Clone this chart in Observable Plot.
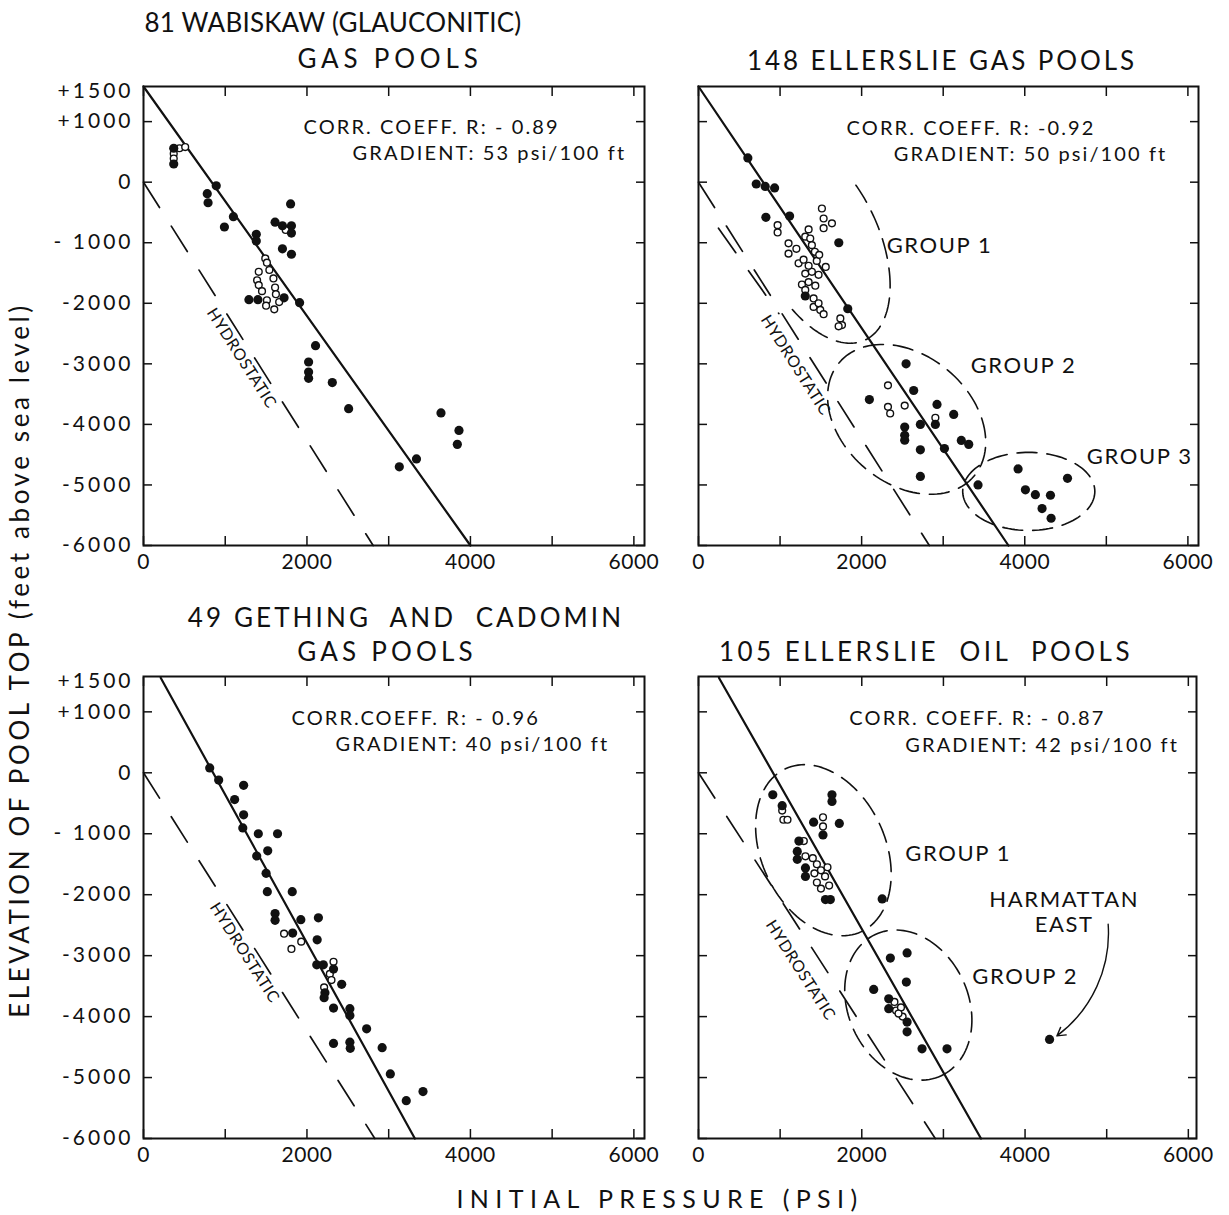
<!DOCTYPE html>
<html><head><meta charset="utf-8">
<script src="https://cdn.jsdelivr.net/npm/d3@7"></script>
<script src="https://cdn.jsdelivr.net/npm/@observablehq/plot@0.6"></script>
<style>
body{margin:0;background:#fff;}
#root{position:relative;width:1229px;height:1215px;font-family:Lato,"DejaVu Sans",sans-serif;color:#111;overflow:hidden;}
.t{position:absolute;white-space:pre;transform:translate(-50%,-50%);font-size:26px;line-height:1;}
.p{position:absolute;}
.p svg{max-width:none;}
svg text{letter-spacing:0.5px;}
svg g[font-size="20"] text{letter-spacing:2.1px;}
svg g[font-size="22"] text{letter-spacing:1.6px;}
svg g[font-size="16"] text{letter-spacing:0.6px;}
svg g[aria-label="y-axis tick label"] text{letter-spacing:3px;}
svg g[aria-label="x-axis tick label"] text{letter-spacing:0.5px;}
</style></head><body><div id="root"></div>
<script>
// ---------- axis ticks ----------
const xTickValues = [0,1000,2000,3000,4000,5000,6000];
const xLabelValues = [0,2000,4000,6000];
const yTickValues = [1000,0,-1000,-2000,-3000,-4000,-5000,-6000];
const yLabelValues = [1500,1000,0,-1000,-2000,-3000,-4000,-5000,-6000];
const yLabelTexts = ["+1500","+1000","0","- 1000","-2000","-3000","-4000","-5000","-6000"];

// ---------- titles ----------
const titleTexts = ["81 WABISKAW (GLAUCONITIC)","GAS POOLS","148 ELLERSLIE GAS POOLS","49 GETHING  AND  CADOMIN","GAS POOLS","105 ELLERSLIE  OIL  POOLS"];
const yAxisTitle = "ELEVATION OF POOL TOP (feet above sea level)";
const xAxisTitle = "INITIAL PRESSURE (PSI)";

// ---------- 81 Wabiskaw (Glauconitic) gas pools ----------
const wabSolid = [[370,560],[370,300],[890,-60],[780,-190],[790,-340],[1100,-570],[990,-740],[1380,-860],[1380,-970],[1610,-660],[1700,-720],[1810,-720],[1810,-840],[1800,-360],[1700,-1100],[1810,-1190],[1290,-1940],[1400,-1940],[1720,-1910],[1910,-1990],[2105,-2700],[2020,-2970],[2020,-3135],[2020,-3240],[2310,-3310],[2510,-3740],[3640,-3810],[3860,-4100],[3840,-4330],[3340,-4570],[3130,-4700]];
const wabOpen = [[370,470],[370,390],[440,560],[510,580],[1740,-790],[1490,-1260],[1510,-1330],[1410,-1480],[1390,-1620],[1410,-1700],[1590,-1590],[1610,-1740],[1620,-1850],[1510,-1950],[1500,-2040],[1600,-2100],[1660,-1980],[1450,-1800],[1540,-1450]];
const wabRegression = [[0,1580],[4000,-6000]];
const wabHydro = [[0,0],[2810,-6000]];
const wabNotes = ["CORR. COEFF. R: - 0.89","GRADIENT: 53 psi/100 ft"];

// ---------- 148 Ellerslie gas pools ----------
const ellGasSolid = [[605,400],[708,-30],[818,-70],[933,-95],[826,-580],[1117,-560],[1309,-1880],[1830,-2090],[1720,-1000],[2545,-3000],[2638,-3440],[2095,-3590],[2924,-3670],[3129,-3835],[2528,-4045],[2528,-4180],[2528,-4260],[2720,-4000],[2904,-4000],[2720,-4420],[3015,-4400],[3222,-4265],[3313,-4330],[2720,-4860],[3427,-5000],[3918,-4735],[4008,-5080],[4130,-5160],[4315,-5170],[4212,-5390],[4323,-5550],[4524,-4890]];
const ellGasOpen = [[2323,-3355],[2323,-3710],[2350,-3820],[2528,-3690],[2904,-3890],[970,-710],[970,-830],[1513,-435],[1534,-600],[1534,-760],[1636,-680],[1104,-1010],[1104,-1180],[1309,-900],[1350,-780],[1370,-930],[1390,-1040],[1427,-1150],[1227,-1340],[1288,-1280],[1309,-1510],[1390,-1480],[1472,-1530],[1268,-1690],[1309,-1780],[1350,-1650],[1432,-1710],[1411,-1920],[1411,-2060],[1472,-2000],[1493,-2110],[1534,-2180],[1739,-2250],[1759,-2360],[1718,-2380],[1200,-1100],[1450,-1300],[1560,-1400],[1480,-1200],[1350,-1380]];
const ellGasRegression = [[0,1580],[3800,-6000]];
const ellGasHydro = [[0,0],[2830,-6000]];
const ellGasHydro2 = [[245,-760],[985,-2170]];
const ellGasNotes = ["CORR. COEFF. R: -0.92","GRADIENT: 50 psi/100 ft"];
const ellGasGroups = ["GROUP 1","GROUP 2","GROUP 3"];

// ---------- 49 Gething and Cadomin gas pools ----------
const gethSolid = [[810,80],[920,-120],[1225,-205],[1115,-440],[1225,-690],[1215,-905],[1405,-1000],[1640,-1000],[1385,-1365],[1520,-1280],[1500,-1650],[1515,-1950],[1820,-1950],[1610,-2310],[1610,-2420],[1925,-2410],[2140,-2380],[1825,-2630],[2125,-2740],[2120,-3150],[2200,-3150],[2325,-3220],[2425,-3470],[2220,-3610],[2210,-3690],[2325,-3860],[2525,-3870],[2525,-3980],[2730,-4200],[2325,-4440],[2525,-4420],[2530,-4520],[2920,-4510],[3020,-4940],[3215,-5380],[3420,-5230]];
const gethOpen = [[1720,-2640],[1930,-2770],[1810,-2890],[2325,-3100],[2210,-3520],[2280,-3300],[2300,-3400]];
const gethRegression = [[210,1560],[3320,-6000]];
const gethHydro = [[0,0],[2830,-6000]];
const gethNotes = ["CORR.COEFF. R: - 0.96","GRADIENT: 40 psi/100 ft"];

// ---------- 105 Ellerslie oil pools ----------
const ellOilSolid = [[910,-360],[1025,-540],[1635,-360],[1635,-470],[1410,-810],[1725,-830],[1525,-1020],[1230,-1120],[1210,-1290],[1210,-1420],[1310,-1560],[1310,-1700],[1555,-2080],[1615,-2080],[2250,-2070],[2350,-3040],[2555,-2955],[2546,-3434],[2146,-3554],[2330,-3708],[2330,-3870],[2555,-4090],[2555,-4250],[2738,-4528],[3044,-4528],[4300,-4374]];
const ellOilOpen = [[1025,-620],[1040,-770],[1090,-770],[1525,-730],[1525,-880],[1290,-1120],[1310,-1370],[1400,-1400],[1450,-1500],[1500,-1600],[1550,-1700],[1450,-1800],[1600,-1850],[1500,-1900],[1580,-1550],[1420,-1650],[2400,-3760],[2420,-3900],[2480,-3850],[2500,-4000],[2450,-3950]];
const ellOilRegression = [[250,1560],[3460,-6000]];
const ellOilHydro = [[0,0],[2900,-6000]];
const ellOilNotes = ["CORR. COEFF. R: - 0.87","GRADIENT: 42 psi/100 ft"];
const ellOilGroups = ["GROUP 1","GROUP 2"];
const harmattanLabel = ["HARMATTAN","EAST"];

// ---------- helpers ----------
function ellipseArc(e) {
  const pts = [], n = 120;
  for (let i = 0; i <= n; i++) {
    const t = (e.t0 + (e.t1 - e.t0) * i / n) * Math.PI / 180;
    pts.push([e.cx + e.ax * Math.cos(t) + e.bx * Math.sin(t), e.cy + e.ay * Math.cos(t) + e.by * Math.sin(t)]);
  }
  return pts;
}
const X = d => d[0], Y = d => d[1];
const INK = "#111";

function panel(o) {
  const marks = [
    Plot.frame({stroke: INK, strokeWidth: 2}),
    Plot.axisX({anchor: "bottom", ticks: xTickValues, tickSize: -9, tickFormat: () => "", label: null, stroke: INK, strokeWidth: 1.5}),
    Plot.axisX({anchor: "top", ticks: xTickValues, tickSize: -9, tickFormat: () => "", label: null, stroke: INK, strokeWidth: 1.5}),
    Plot.axisY({anchor: "left", ticks: yTickValues, tickSize: -9, tickFormat: () => "", label: null, stroke: INK, strokeWidth: 1.5}),
    Plot.axisY({anchor: "right", ticks: yTickValues, tickSize: -9, tickFormat: () => "", label: null, stroke: INK, strokeWidth: 1.5}),
    Plot.axisX({anchor: "bottom", ticks: xLabelValues, tickSize: 0, tickPadding: 9, label: null, fontSize: 21, fill: INK, tickFormat: d => String(d)}),
  ];
  if (o.yLabels) marks.push(Plot.axisY({anchor: "left", ticks: yLabelValues, tickSize: 0, tickPadding: 10, label: null, fontSize: 21, fill: INK, tickFormat: d => yLabelTexts[yLabelValues.indexOf(d)]}));
  for (const h of o.hydro) marks.push(Plot.line(h, {x: X, y: Y, stroke: INK, strokeWidth: 1.7, strokeDasharray: "30,22"}));
  for (const e of (o.ellipses || [])) marks.push(Plot.line(ellipseArc(e), {x: X, y: Y, stroke: INK, strokeWidth: 1.6, strokeDasharray: "20,10"}));
  marks.push(Plot.line(o.regression, {x: X, y: Y, stroke: INK, strokeWidth: 2.2}));
  marks.push(Plot.dot(o.open, {x: X, y: Y, r: 3.4, fill: "white", stroke: INK, strokeWidth: 1.4}));
  marks.push(Plot.dot(o.solid, {x: X, y: Y, r: 4.6, fill: INK, stroke: "none"}));
  marks.push(Plot.text(o.notes, {x: (d, i) => o.noteX[i], y: (d, i) => o.noteY[i], text: d => d, textAnchor: "start", fontSize: 20, fill: INK}));
  marks.push(Plot.text(["HYDROSTATIC"], {x: () => o.hydroLabel[0], y: () => o.hydroLabel[1], text: d => d, rotate: 57.5, fontSize: 16, fill: INK}));
  if (o.groups) marks.push(Plot.text(o.groups, {x: (d, i) => o.groupX[i], y: (d, i) => o.groupY[i], text: d => d, textAnchor: "start", fontSize: 22, fill: INK}));
  if (o.extra) marks.push(...o.extra);
  return Plot.plot({
    width: o.width, height: o.height,
    marginLeft: o.ml, marginRight: o.mr, marginTop: o.mt, marginBottom: o.mb,
    x: {domain: o.xDomain}, y: {domain: [-6000, 1580]},
    style: {fontFamily: "Lato, 'DejaVu Sans', sans-serif", fontSize: "20px", color: INK, background: "transparent", overflow: "visible"},
    marks
  });
}

const root = document.getElementById("root");
function place(node, left, top) {
  const d = document.createElement("div");
  d.className = "p"; d.style.left = left + "px"; d.style.top = top + "px";
  d.appendChild(node); root.appendChild(d);
}
function label(text, cx, cy, extra) {
  const d = document.createElement("div");
  d.className = "t"; d.textContent = text;
  d.style.left = cx + "px"; d.style.top = cy + "px";
  if (extra) Object.assign(d.style, extra);
  root.appendChild(d);
}

// top-left
place(panel({
  width: 655, height: 520, ml: 143, mr: 11, mt: 16, mb: 45, xDomain: [0, 6130], yLabels: true,
  solid: wabSolid, open: wabOpen, regression: wabRegression, hydro: [wabHydro],
  notes: wabNotes, noteX: [1958, 2558], noteY: [909, 479], hydroLabel: [1200, -2909]
}), 0, 70);

// top-right
place(panel({
  width: 565, height: 520, ml: 43, mr: 22, mt: 16, mb: 45, xDomain: [0, 6130], yLabels: false,
  solid: ellGasSolid, open: ellGasOpen, regression: ellGasRegression, hydro: [ellGasHydro, ellGasHydro2],
  notes: ellGasNotes, noteX: [1816, 2393], noteY: [893, 463], hydroLabel: [1190, -3025],
  ellipses: [
    {cx: 1472, cy: -959, ax: 570, ay: -1648, bx: -667, by: -420, t0: -108, t1: 62},
    {cx: 2552, cy: -3917, ax: 827, ay: -936, bx: -506, by: -810, t0: 0, t1: 360},
    {cx: 4049, cy: -5107, ax: 810, ay: 0, bx: 0, by: -645, t0: 0, t1: 360}
  ],
  groups: ellGasGroups, groupX: [2307, 3337, 4761], groupY: [-1058, -3041, -4545]
}), 655, 70);

// bottom-left
place(panel({
  width: 655, height: 520, ml: 143, mr: 11, mt: 16, mb: 42, xDomain: [0, 6130], yLabels: true,
  solid: gethSolid, open: gethOpen, regression: gethRegression, hydro: [gethHydro],
  notes: gethNotes, noteX: [1811, 2350], noteY: [885, 459], hydroLabel: [1236, -2951]
}), 0, 660);

// bottom-right
place(panel({
  width: 565, height: 520, ml: 43, mr: 24, mt: 16, mb: 42, xDomain: [0, 6100], yLabels: false,
  solid: ellOilSolid, open: ellOilOpen, regression: ellOilRegression, hydro: [ellOilHydro],
  notes: ellOilNotes, noteX: [1848, 2534], noteY: [893, 451], hydroLabel: [1248, -3238],
  ellipses: [
    {cx: 1530, cy: -1270, ax: 465, ay: -1336, bx: -688, by: -430, t0: 0, t1: 360},
    {cx: 2570, cy: -3811, ax: 404, ay: -1159, bx: -666, by: -416, t0: 0, t1: 360}
  ],
  groups: ellOilGroups, groupX: [2534, 3354], groupY: [-1336, -3352],
  extra: [
    Plot.text(harmattanLabel, {x: () => 4480, y: (d, i) => [-2085, -2490][i], text: d => d, fontSize: 22, fill: INK}),
    Plot.arrow([[5018, -2484, 4330, -4374]], {x1: d => d[0], y1: d => d[1], x2: d => d[2], y2: d => d[3], bend: 30, headLength: 10, insetEnd: 6, stroke: INK, strokeWidth: 1.4})
  ]
}), 655, 660);

// titles
label(titleTexts[0], 333, 22, {letterSpacing: "0.2px"});
label(titleTexts[1], 390, 58, {letterSpacing: "4.8px"});
label(titleTexts[2], 942, 60, {letterSpacing: "2.9px"});
label(titleTexts[3], 406, 617, {letterSpacing: "3.1px"});
label(titleTexts[4], 387, 651, {letterSpacing: "4.2px"});
label(titleTexts[5], 926, 651, {letterSpacing: "3.5px"});
label(yAxisTitle, 19, 660, {transform: "translate(-50%,-50%) rotate(-90deg)", fontSize: "26px", letterSpacing: "3.6px"});
label(xAxisTitle, 660, 1198, {fontSize: "25px", letterSpacing: "6.4px"});
</script></body></html>
